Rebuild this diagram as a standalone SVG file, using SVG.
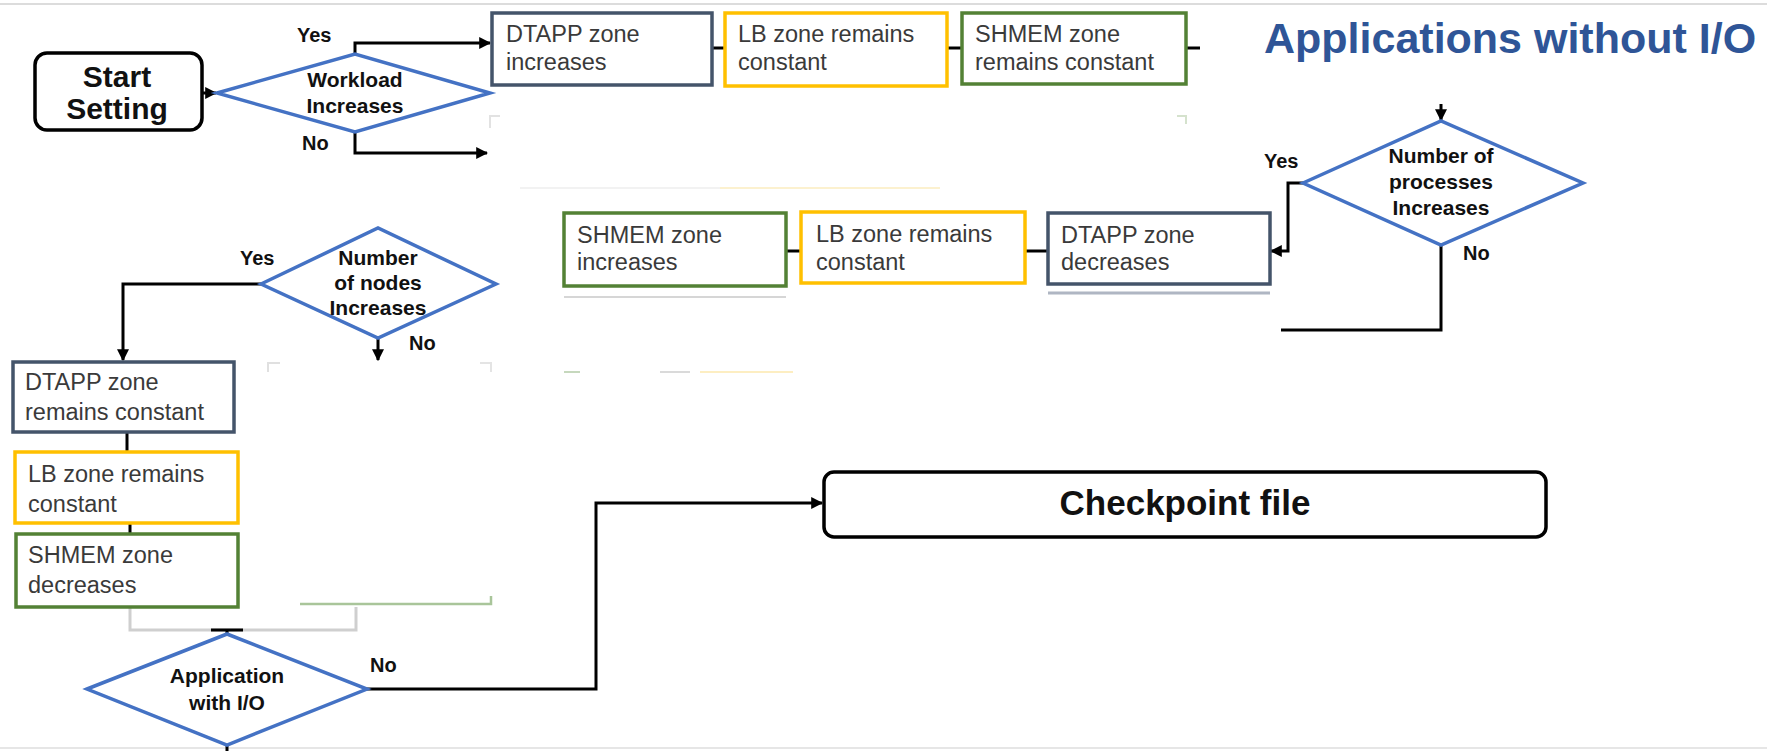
<svg xmlns="http://www.w3.org/2000/svg" width="1767" height="751" viewBox="0 0 1767 751">
<defs>
<marker id="arr" viewBox="0 0 10 10" refX="9" refY="5" markerWidth="4" markerHeight="4" orient="auto-start-reverse" markerUnits="strokeWidth">
<path d="M0,0 L10,5 L0,10 z" fill="#000"/>
</marker>
<style>
.bg{fill:#fff}
.box{fill:#fff;stroke-width:3.5}
.slate{stroke:#44546a}
.gold{stroke:#ffc000}
.green{stroke:#538135}
.term{fill:#fff;stroke:#000;stroke-width:3.5}
.dia{fill:#fff;stroke:#4472c4;stroke-width:3.5;stroke-linejoin:miter}
.t{font-family:"Liberation Sans",Arial,sans-serif;font-size:23.5px;fill:#3a3a3a}
.d{font-family:"Liberation Sans",Arial,sans-serif;font-size:21px;font-weight:bold;fill:#111;text-anchor:middle}
.lbl{font-family:"Liberation Sans",Arial,sans-serif;font-size:20px;font-weight:bold;fill:#111}
.big{font-family:"Liberation Sans",Arial,sans-serif;font-weight:bold;fill:#111;text-anchor:middle}
.c{fill:none;stroke:#000;stroke-width:3}
.ca{fill:none;stroke:#000;stroke-width:3;marker-end:url(#arr)}
.faint{fill:none;stroke-width:2}
</style>
</defs>
<rect class="bg" x="0" y="0" width="1767" height="751"/>

<g id="artifacts">
<line x1="0" y1="4" x2="1767" y2="4" stroke="#dcdcdc" stroke-width="2"/>
<line x1="0" y1="748" x2="1767" y2="748" stroke="#e6e6e6" stroke-width="2"/>
<path class="faint" d="M490,128 V116 H500" stroke="#e2e2e2"/>
<path class="faint" d="M1177,116 H1186 V124" stroke="#d5e2cd"/>
<path class="faint" d="M520,188 H720" stroke="#f2f2f2"/>
<path class="faint" d="M720,188 H940" stroke="#fcf1cf"/>
<line x1="564" y1="297" x2="786" y2="297" stroke="#d6d6d6" stroke-width="2"/>
<line x1="1048" y1="293" x2="1270" y2="293" stroke="#8e98aa" stroke-width="3" opacity="0.7"/>
<path class="faint" d="M564,372 H580" stroke="#c6d8bd"/>
<path class="faint" d="M660,372 H690" stroke="#dadada"/>
<path class="faint" d="M700,372 H793" stroke="#fdeec2"/>
<path class="faint" d="M268,372 V363 H280" stroke="#e0e0e0"/>
<path class="faint" d="M480,363 H491 V372" stroke="#e4e4e4"/>
<path d="M300,604 H491 V596" fill="none" stroke="#a9c59a" stroke-width="2.5"/>
</g>

<g id="connectors">
<path class="ca" d="M202,93 H216"/>
<path class="ca" d="M355,54 V43 H490"/>
<path class="ca" d="M355,132 V153 H487"/>
<path class="c" d="M712,48 H725"/>
<path class="c" d="M947,48 H962"/>
<path class="c" d="M1186,48 H1200"/>
<path class="ca" d="M1441,104 V120"/>
<path class="ca" d="M1303,183 H1288 V251 H1271"/>
<path class="c" d="M1441,245 V330 H1281"/>
<path class="c" d="M1048,251 H1025"/>
<path class="c" d="M801,251 H786"/>
<path class="ca" d="M261,284 H123 V360"/>
<path class="ca" d="M378,338 V360"/>
<path class="c" d="M127,432 V452"/>
<path class="c" d="M130,523 V534"/>
<path d="M130,607 V630 H356 V607" fill="none" stroke="#cfcfcf" stroke-width="3"/>
<path class="c" d="M211,630 H243"/>
<path class="c" d="M227,630 V634"/>
<path class="c" d="M227,745 V751"/>
<path class="ca" d="M367,689 H596 V503 H822"/>
</g>

<g id="start">
<rect class="term" x="35" y="53" width="167" height="77" rx="12"/>
<text class="big" x="117" y="87" font-size="30">Start</text>
<text class="big" x="117" y="119" font-size="30">Setting</text>
</g>

<g id="workload">
<polygon class="dia" points="217,93 355,54 490,93 355,132"/>
<text class="d" x="355" y="87">Workload</text>
<text class="d" x="355" y="113">Increases</text>
<text class="lbl" x="297" y="42">Yes</text>
<text class="lbl" x="302" y="150">No</text>
</g>

<g id="dtapp-inc">
<rect class="box slate" x="492" y="13" width="220" height="72"/>
<text class="t" x="506" y="42">DTAPP zone</text>
<text class="t" x="506" y="70">increases</text>
</g>
<g id="lb-top">
<rect class="box gold" x="725" y="13" width="222" height="73"/>
<text class="t" x="738" y="42">LB zone remains</text>
<text class="t" x="738" y="70">constant</text>
</g>
<g id="shmem-top">
<rect class="box green" x="962" y="13" width="224" height="71"/>
<text class="t" x="975" y="42">SHMEM zone</text>
<text class="t" x="975" y="70">remains constant</text>
</g>

<g id="title">
<text x="1264" y="53" font-family="Liberation Sans, Arial, sans-serif" font-size="43" font-weight="bold" fill="#2f5597">Applications without I/O</text>
</g>

<g id="processes">
<polygon class="dia" points="1303,183 1441,121 1583,183 1441,245"/>
<text class="d" x="1441" y="163">Number of</text>
<text class="d" x="1441" y="189">processes</text>
<text class="d" x="1441" y="215">Increases</text>
<text class="lbl" x="1264" y="168">Yes</text>
<text class="lbl" x="1463" y="260">No</text>
</g>

<g id="dtapp-dec">
<rect class="box slate" x="1048" y="213" width="222" height="71"/>
<text class="t" x="1061" y="243">DTAPP zone</text>
<text class="t" x="1061" y="270">decreases</text>
</g>
<g id="lb-mid">
<rect class="box gold" x="801" y="212" width="224" height="71"/>
<text class="t" x="816" y="242">LB zone remains</text>
<text class="t" x="816" y="270">constant</text>
</g>
<g id="shmem-inc">
<rect class="box green" x="564" y="213" width="222" height="73"/>
<text class="t" x="577" y="243">SHMEM zone</text>
<text class="t" x="577" y="270">increases</text>
</g>

<g id="nodes">
<polygon class="dia" points="261,284 378,228 496,284 378,338"/>
<text class="d" x="378" y="265">Number</text>
<text class="d" x="378" y="290">of nodes</text>
<text class="d" x="378" y="315">Increases</text>
<text class="lbl" x="240" y="265">Yes</text>
<text class="lbl" x="409" y="350">No</text>
</g>

<g id="dtapp-const">
<rect class="box slate" x="13" y="362" width="221" height="70"/>
<text class="t" x="25" y="390">DTAPP zone</text>
<text class="t" x="25" y="420">remains constant</text>
</g>
<g id="lb-left">
<rect class="box gold" x="15" y="452" width="223" height="71"/>
<text class="t" x="28" y="482">LB zone remains</text>
<text class="t" x="28" y="512">constant</text>
</g>
<g id="shmem-dec">
<rect class="box green" x="16" y="534" width="222" height="73"/>
<text class="t" x="28" y="563">SHMEM zone</text>
<text class="t" x="28" y="593">decreases</text>
</g>

<g id="app-io">
<polygon class="dia" points="87,689 227,634 367,689 227,745"/>
<text class="d" x="227" y="683">Application</text>
<text class="d" x="227" y="710">with I/O</text>
<text class="lbl" x="370" y="672">No</text>
</g>

<g id="checkpoint">
<rect class="term" x="824" y="472" width="722" height="65" rx="10"/>
<text class="big" x="1185" y="515" font-size="35">Checkpoint file</text>
</g>
</svg>
